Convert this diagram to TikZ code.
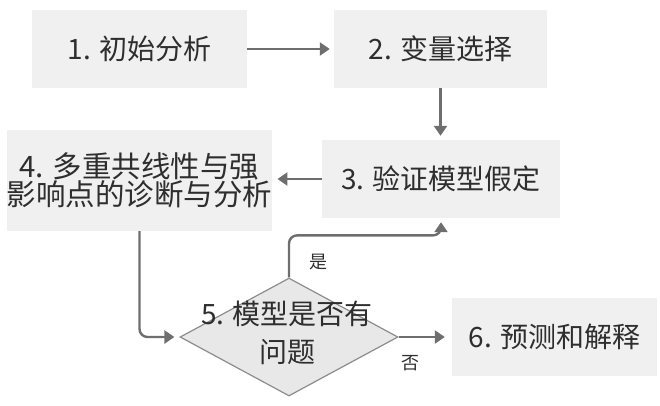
\documentclass[tikz,border=0pt]{standalone}
\usepackage{fontspec}
\setmainfont{Noto Sans CJK SC}
\usetikzlibrary{arrows.meta,shapes.geometric,calc}
\definecolor{boxfill}{HTML}{F0F0F0}
\definecolor{txt}{HTML}{2E2E2E}
\definecolor{arr}{HTML}{6E6E6E}
\definecolor{dfill}{HTML}{E8E8E8}
\definecolor{dline}{HTML}{8C8C8C}
\tikzset{
  procbox/.style={fill=boxfill, draw=none, inner sep=0pt, text=txt, align=center,
    font=\fontsize{28}{29}\selectfont},
  flow/.style={draw=arr, line width=2.4pt, -{Triangle[length=10pt,width=13pt]}},
  lbl/.style={text=txt, font=\fontsize{18}{20}\selectfont, inner sep=0pt}
}
\begin{document}
\begin{tikzpicture}[x=1pt,y=-1pt]
\useasboundingbox (0,0) rectangle (660,405);
\node[procbox, minimum width=215pt, minimum height=78pt] (b1) at (139.5,49) {1. 初始分析};
\node[procbox, minimum width=213pt, minimum height=78pt] (b2) at (440.5,49) {2. 变量选择};
\node[procbox, minimum width=238pt, minimum height=78pt] (b3) at (441,179) {3. 验证模型假定};
\node[procbox, minimum width=265pt, minimum height=101pt, font=\fontsize{29.5}{28}\selectfont] (b4) at (139.5,180.5) {4. 多重共线性与强\\影响点的诊断与分析};
\node[diamond, fill=dfill, draw=dline, line width=1.2pt, inner sep=0pt, minimum width=218pt, minimum height=118pt] (d5) at (289,337) {};
\node[text=txt, align=center, inner sep=0pt, font=\fontsize{28}{38}\selectfont] (d5t) at (287,333) {5. 模型是否有\\问题};
\node[procbox, minimum width=205pt, minimum height=78pt] (b6) at (554.5,337) {6. 预测和解释};

\draw[flow, shorten >=4pt] (b1.east) -- (b2.west);
\draw[flow, shorten >=4pt] (b2.south) -- (b2.south |- b3.north);
\draw[flow, shorten >=5pt] (b3.west) -- (b4.east |- b3.west);
\draw[flow, shorten >=5pt, rounded corners=8pt] (b4.south) |- (d5.west);
\coordinate (yes) at ($(d5.north)+(0,-42)$);
\draw[flow, shorten >=4pt, rounded corners=8pt] (d5.north) -- (yes) -| (b3.south);
\draw[flow, shorten >=7pt] (d5.east) -- (b6.west);
\node[lbl] (lyes) at (318,262) {是};
\node[lbl] (lno) at (410,363) {否};
\end{tikzpicture}
\end{document}
